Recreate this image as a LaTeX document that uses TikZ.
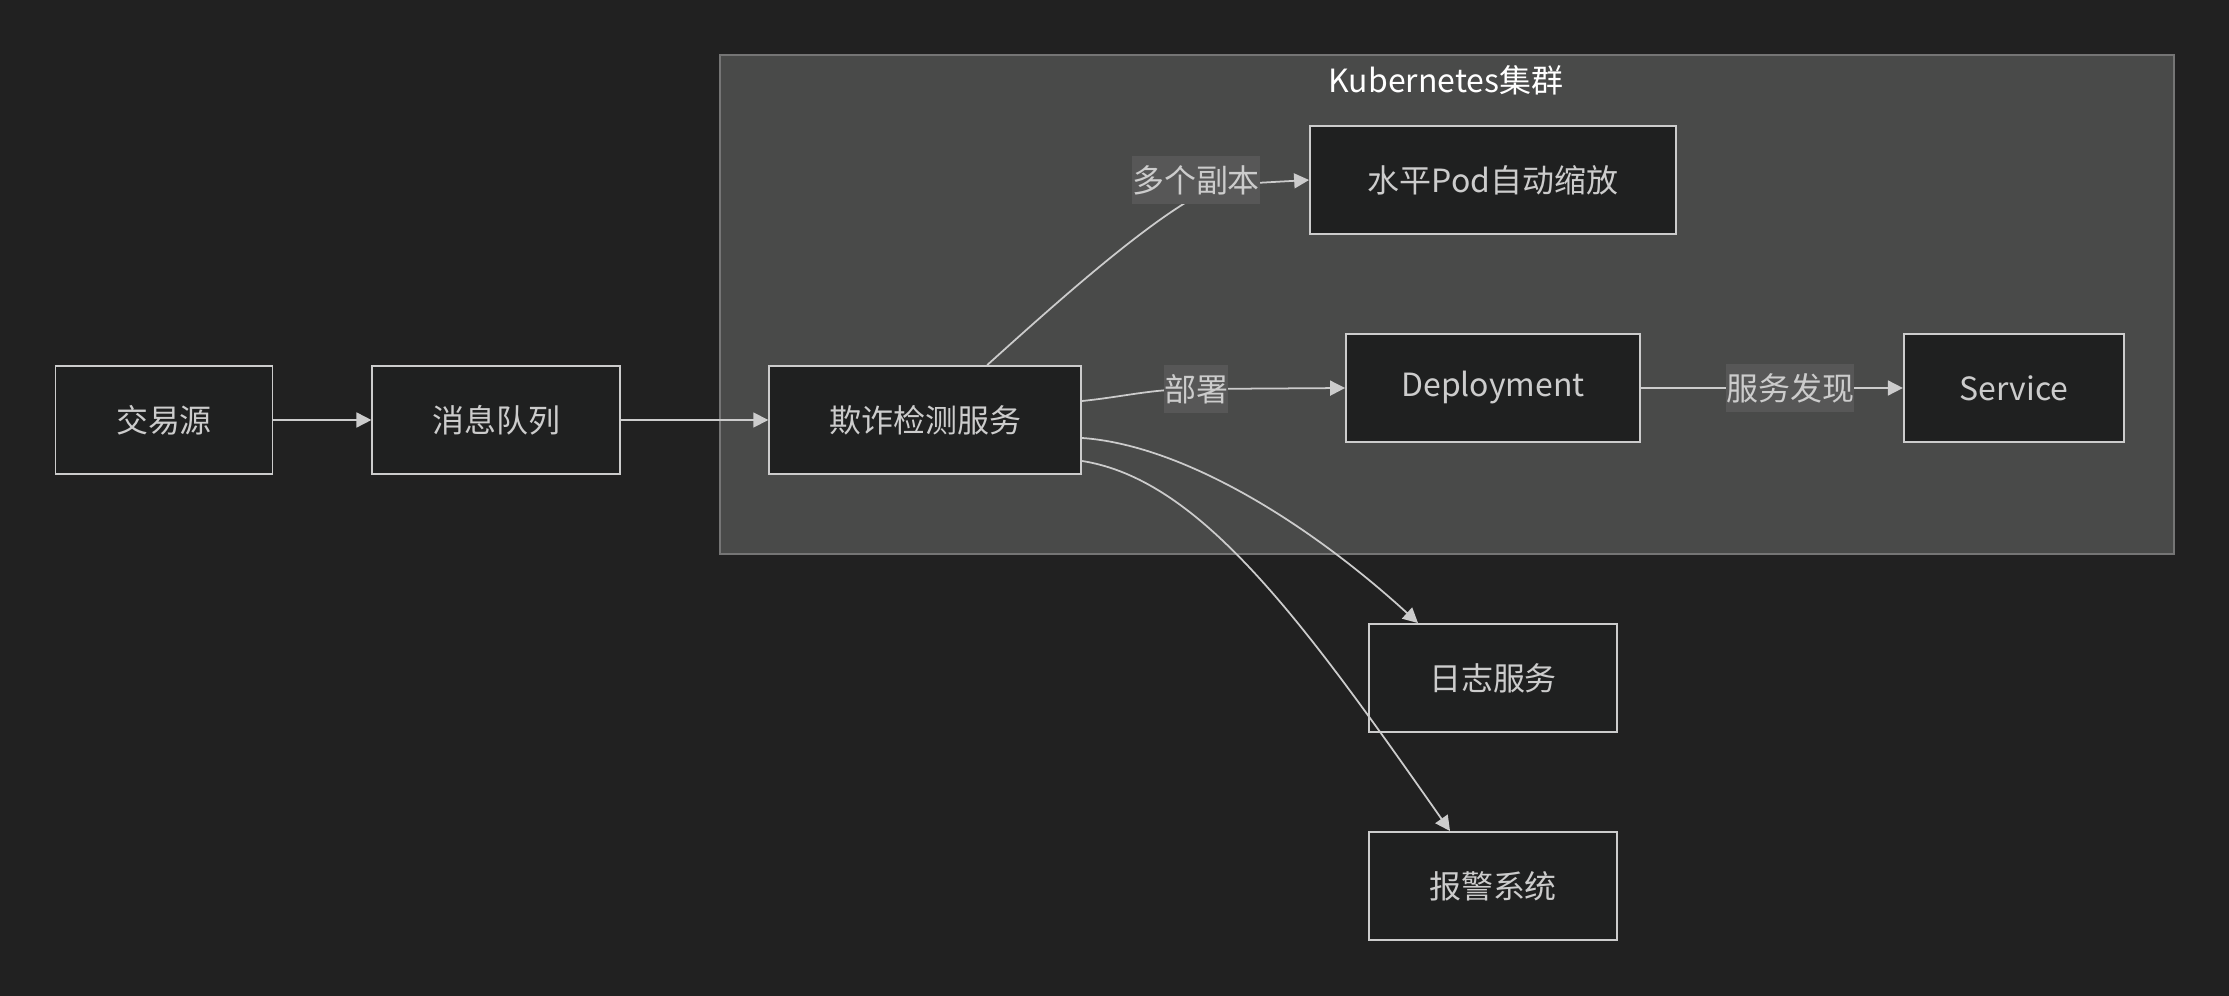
\documentclass[tikz,border=0pt]{standalone}
\usepackage{fontspec}
\setmainfont{Noto Sans CJK SC}
\usepackage{tikz}
\usetikzlibrary{positioning,arrows.meta,calc}

\definecolor{bgdark}{HTML}{212121}
\definecolor{clusterfill}{HTML}{494A49}
\definecolor{clusterline}{HTML}{757575}
\definecolor{boxfill}{HTML}{1F2020}
\definecolor{boxline}{HTML}{CCCCCC}
\definecolor{labelfill}{HTML}{575757}
\definecolor{txt}{HTML}{CCCCCC}

\begin{document}
\begin{tikzpicture}[x=0.02cm, y=0.02cm, node distance=1.96cm,
    box/.style={draw=boxline, line width=1.1pt, fill=boxfill, text=txt,
        font=\fontsize{18.2pt}{22pt}\selectfont, inner xsep=0pt, minimum height=2.16cm},
    elabel/.style={fill=labelfill, text=txt, font=\fontsize{18.2pt}{22pt}\selectfont,
        inner xsep=0pt, minimum height=0.96cm},
    link/.style={draw=boxline, line width=1pt, -{Triangle[length=8.5pt,width=8.5pt]}}]

% background
    \fill[bgdark] (0,0) rectangle (2229,-996);
    \useasboundingbox (0,0) rectangle (2229,-996);

% cluster
    \draw[clusterline, fill=clusterfill, line width=0.8pt] (720,-55) rectangle (2174,-554);
    \node (K8S) [text=white, font=\fontsize{18.2pt}{22pt}\selectfont] at (1446,-80) {Kubernetes集群};

    \node[box, minimum width=4.34cm] (SRC) at (164,-420) {交易源};
    \node[box, minimum width=4.96cm] (MQ) [right=of SRC] {消息队列};
    \node[box, minimum width=6.24cm] (FD) [right=2.94cm of MQ] {欺诈检测服务};
    \node[box, minimum width=5.88cm] (DEP) at (1493,-388) {Deployment};
    \node[box, minimum width=7.32cm] (HPA) at (1493,-180) {水平Pod自动缩放};
    \node[box, minimum width=4.4cm] (SVC) [right=5.24cm of DEP] {Service};
    \node[box, minimum width=4.96cm] (LOG) at (1493,-678) {日志服务};
    \node[box, minimum width=4.96cm] (ALM) at (1493,-886) {报警系统};

    \draw[link] (SRC) -- (MQ);
    \draw[link] (MQ) -- (FD);
    \draw[link] ([xshift=1.24cm]FD.north) .. controls +(42:90) and +(-160:60) .. (1220,-185) -- (HPA.west);
    \node[elabel] (L1) at (1196,-180) {多个副本};
    \draw[link] ([yshift=0.38cm]FD.east) to[out=6,in=180] (1196,-389)
        node[elabel] (L2) {部署} -- (DEP.west);
    \draw[link] (DEP) -- node[elabel, pos=0.57] (L3) {服务发现} (SVC);
%    \draw[link] (FD) -- (LOG);
    \draw[link] ([yshift=-0.36cm]FD.east) .. controls +(-4:98) and +(137.6:154) .. ([xshift=-1.5cm]LOG.north);
    \draw[link] ([yshift=-0.82cm]FD.east) .. controls +(-9:120) and +(125:257) .. ([xshift=-0.86cm]ALM.north);

\end{tikzpicture}
\end{document}
